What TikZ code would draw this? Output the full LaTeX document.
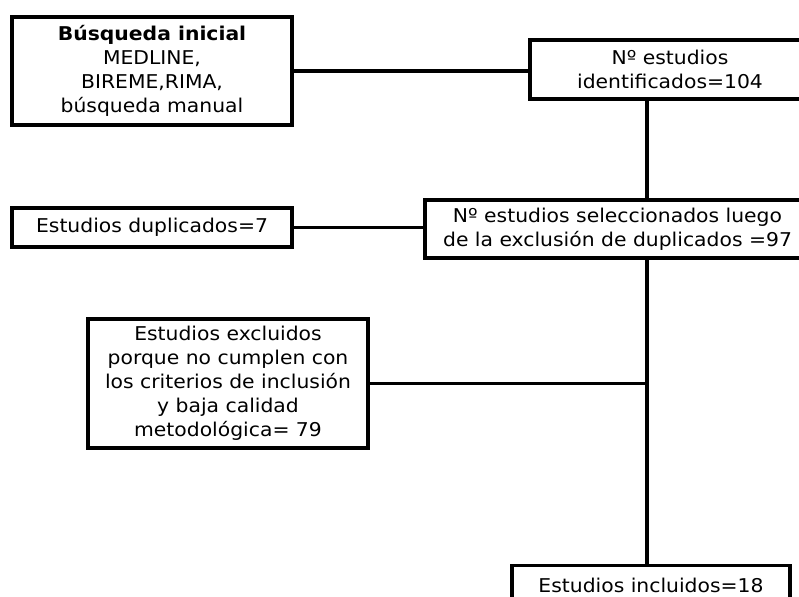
\documentclass[tikz,border=0pt]{standalone}
\usepackage{fontspec}
\setmainfont[FakeStretch=1.07]{DejaVu Sans}
\begin{document}
\begin{tikzpicture}[x=1pt,y=-1pt,
  boxst/.style={draw=black,line width=3.5pt,fill=white,inner sep=0pt,align=center,
    font=\fontsize{19}{24}\selectfont},
  conn/.style={draw=black,line width=3.5pt}]
\useasboundingbox (0,0) rectangle (799,596);
\clip (0,0) rectangle (799,596);
\node[boxst,minimum width=280pt,minimum height=108pt] (b1) at (152,71)
  {\textbf{Búsqueda inicial}\\MEDLINE,\\BIREME,RIMA,\\búsqueda manual};
\node[boxst,minimum width=280pt,minimum height=59pt] (b2) at (670,69.5)
  {Nº estudios\\identificados=104};
\node[boxst,minimum width=280pt,minimum height=39pt] (b4) at (152,227.5)
  {Estudios duplicados=7};
\node[boxst,minimum width=385pt,minimum height=58pt] (b3) at (617.5,229)
  {Nº estudios seleccionados luego\\de la exclusión de duplicados =97};
\node[boxst,minimum width=280pt,minimum height=129pt] (b5) at (228,383.5)
  {Estudios excluidos\\porque no cumplen con\\los criterios de inclusión\\y baja calidad\\metodológica= 79};
\node[boxst,minimum width=278pt,minimum height=39pt] (b6) at (651,585)
  {Estudios incluidos=18};
\coordinate (vx) at (647,0);
\draw[conn] (b1.east) -- (b1.east -| b2.west);
\draw[conn] (b4.east) -- (b4.east -| b3.west);
\draw[conn] (b2.south -| vx) -- (b3.north -| vx);
\draw[conn] (b3.south -| vx) -- (b6.north -| vx);
\draw[conn] (b5.east) -- (b5.east -| vx);
\end{tikzpicture}
\end{document}
